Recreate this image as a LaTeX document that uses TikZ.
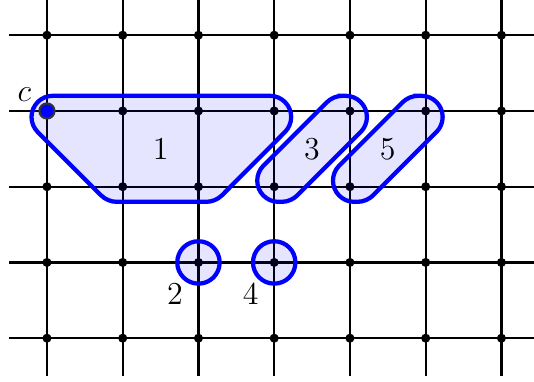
\documentclass[tikz,border=0pt]{standalone}
\usepackage{amsmath,amssymb}
\usepackage{tikz}
\usetikzlibrary{calc,positioning}

\begin{document}
\begin{tikzpicture}[
  gridline/.style={thick},
  region/.style={draw=blue, line width=1.6pt, fill=blue, fill opacity=0.1, draw opacity=1},
  lab/.style={font=\large}]
  \useasboundingbox (-0.62,-0.57) rectangle (6.43,4.465);
  % lattice
  \foreach \y in {0,...,4}
    \draw[gridline] (-0.5,\y) -- (6.5,\y);
  \foreach \x in {0,...,6}
    \draw[gridline] (\x,-0.5) -- (\x,4.5);
  \foreach \x in {0,...,6}
    \foreach \y in {0,...,4}
      \fill (\x,\y) circle (0.06);
  % component 1
  \draw[region] (0.076,3.2) -- (2.944,3.2) arc[start angle=90, end angle=-45, radius=0.28]
    -- (2.312,1.888) arc[start angle=-45, end angle=-90, radius=0.3]
    -- (0.924,1.8) arc[start angle=-90, end angle=-135, radius=0.3]
    -- (-0.122,2.722) arc[start angle=-135, end angle=-270, radius=0.28] -- cycle;
  \node[lab] (n1) at (1.5,2.5) {1};
  % components 3 and 5
  \foreach \i/\t in {3/3,4/5} {
    \draw[region, shift={(\i,2)}] (0.904,1.2) -- (0.944,1.2) arc[start angle=90, end angle=-45, radius=0.28]
      -- (0.308,-0.112) arc[start angle=-45, end angle=-90, radius=0.3]
      -- (0.056,-0.2) arc[start angle=-90, end angle=-225, radius=0.28]
      -- (0.692,1.112) arc[start angle=135, end angle=90, radius=0.3] -- cycle;
    \node[lab] (n\t) at (\i+0.5,2.5) {\t};
  }
  % components 2 and 4
  \draw[region] (2,1) circle (0.28);
  \draw[region] (3,1) circle (0.28);
  \node[lab] (n2) at (1.69,0.59) {2};
  \node[lab] (n4) at (2.69,0.59) {4};
  % the point c
  \filldraw[fill=blue, draw=black!80, thick] (0,3) circle (0.1);
  \node[lab] (c) at (-0.3,3.21) {$c$};
\end{tikzpicture}
\end{document}
